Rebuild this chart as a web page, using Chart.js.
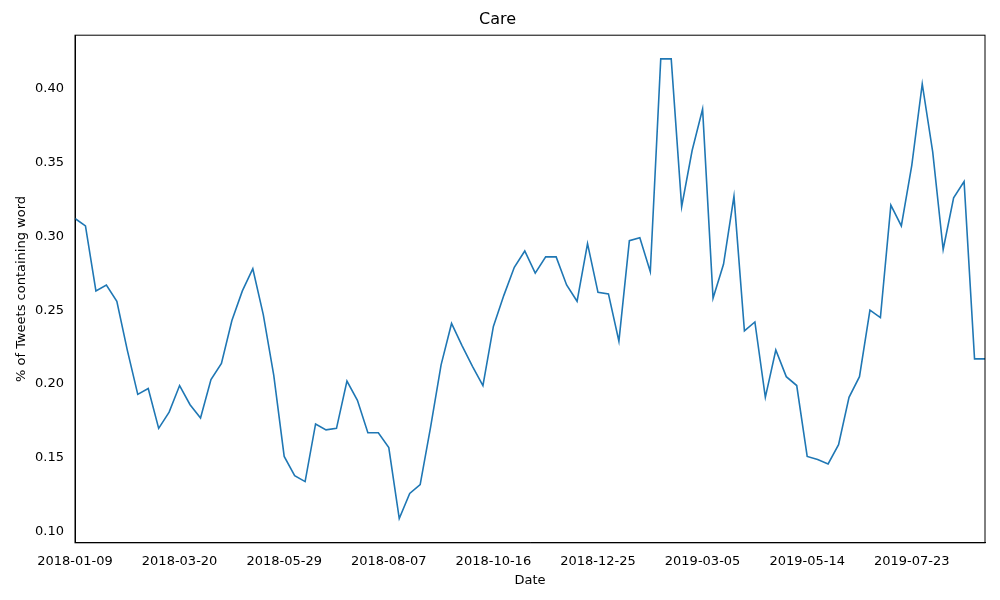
<!DOCTYPE html>
<html>
<head>
<meta charset="UTF-8">
<script src="https://cdn.jsdelivr.net/npm/chart.js"></script>
<style>
  body { margin: 0; background: #fff; }
  #wrap { width: 1000px; height: 600px; }
</style>
</head>
<body>
<div id="wrap"><canvas id="c"></canvas></div>
<script>
const startDate = '2018-01-09';
const weekCount = 88;
const careValues = [
  0.312, 0.307, 0.263, 0.267, 0.256, 0.223, 0.193, 0.197, 0.170, 0.181,
  0.199, 0.186, 0.177, 0.203, 0.214, 0.243, 0.263, 0.278, 0.247, 0.206,
  0.151, 0.138, 0.134, 0.173, 0.169, 0.170, 0.202, 0.189, 0.167, 0.167,
  0.157, 0.109, 0.126, 0.132, 0.171, 0.213, 0.241, 0.226, 0.212, 0.199,
  0.239, 0.260, 0.279, 0.290, 0.275, 0.286, 0.286, 0.267, 0.256, 0.295,
  0.262, 0.261, 0.229, 0.297, 0.299, 0.276, 0.420, 0.420, 0.320, 0.358,
  0.386, 0.258, 0.281, 0.327, 0.236, 0.242, 0.191, 0.223, 0.205, 0.199,
  0.151, 0.149, 0.146, 0.159, 0.191, 0.205, 0.250, 0.245, 0.321, 0.307,
  0.348, 0.403, 0.357, 0.291, 0.326, 0.337, 0.217, 0.217
];
const tickEvery = 10;

// weekly date labels
const dates = [];
const d0 = new Date(startDate + 'T00:00:00Z');
for (let i = 0; i < weekCount; i++) {
  const d = new Date(d0.getTime() + i * 7 * 86400000);
  dates.push(d.toISOString().slice(0, 10));
}

const font = { family: 'DejaVu Sans', size: 13 };

new Chart(document.getElementById('c'), {
  type: 'line',
  data: {
    labels: dates,
    datasets: [{
      data: careValues,
      borderColor: '#1f77b4',
      borderWidth: 1.6,
      pointRadius: 0,
      tension: 0,
      fill: false
    }]
  },
  options: {
    responsive: true,
    maintainAspectRatio: false,
    animation: false,
    layout: { padding: { top: 8, right: 15, left: 10, bottom: 8 } },
    plugins: {
      legend: { display: false },
      tooltip: { enabled: false },
      title: { display: true, text: 'Care', color: '#000', font: { family: 'DejaVu Sans', size: 16, weight: 'normal' }, padding: { top: 2, bottom: 6 } }
    },
    scales: {
      x: {
        type: 'category',
        offset: false,
        grid: { display: false, drawTicks: true },
        border: { color: '#000' },
        title: { display: true, text: 'Date', color: '#000', font: font, padding: { top: 0 } },
        ticks: {
          color: '#000', font: font, autoSkip: false, maxRotation: 0,
          callback: function(v, i) { return i % tickEvery === 0 ? dates[i] : null; }
        }
      },
      y: {
        min: 0.0926,
        max: 0.436,
        grid: { display: false },
        border: { color: '#000' },
        title: { display: true, text: '% of Tweets containing word', color: '#000', font: font },
        afterFit: function(s) { s.width = 65; },
        ticks: {
          color: '#000', font: font, stepSize: 0.05,
          callback: function(v) { return Math.abs(v * 20 - Math.round(v * 20)) < 1e-6 ? v.toFixed(2) : null; }
        },
        afterBuildTicks: function(s) {
          s.ticks = [0.10, 0.15, 0.20, 0.25, 0.30, 0.35, 0.40].map(v => ({ value: v }));
        }
      }
    }
  },
  plugins: [{
    id: 'frame',
    afterDraw(chart) {
      const a = chart.chartArea, ctx = chart.ctx;
      ctx.save();
      ctx.strokeStyle = '#000';
      ctx.lineWidth = 1;
      ctx.strokeRect(a.left, a.top, a.right - a.left, a.bottom - a.top);
      ctx.restore();
    }
  }]
});
</script>
</body>
</html>
